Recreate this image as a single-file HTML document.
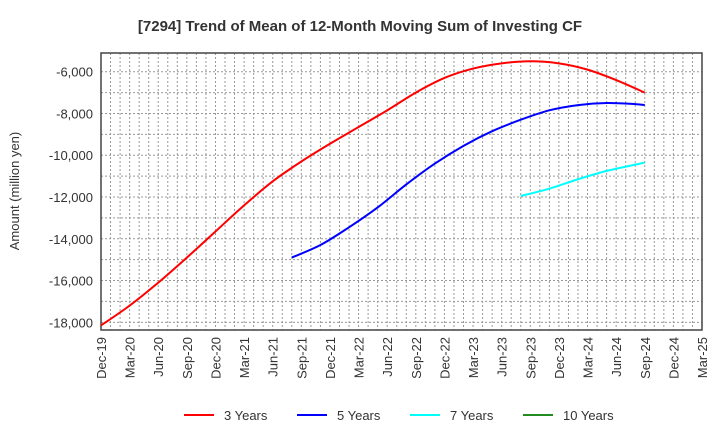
<!DOCTYPE html>
<html><head><meta charset="utf-8"><style>
body{margin:0;background:#fff;}
svg{display:block;font-family:"Liberation Sans",sans-serif;}
</style></head><body>
<svg id="chart" width="720" height="440"></svg>
<script>
const quarters=["Dec-19","Mar-20","Jun-20","Sep-20","Dec-20","Mar-21","Jun-21","Sep-21","Dec-21","Mar-22","Jun-22","Sep-22","Dec-22","Mar-23","Jun-23","Sep-23","Dec-23","Mar-24","Jun-24","Sep-24","Dec-24","Mar-25"];
const yTicks=[-6000,-8000,-10000,-12000,-14000,-16000,-18000];
const s3Dates=["Dec-19","Mar-20","Jun-20","Sep-20","Dec-20","Mar-21","Jun-21","Sep-21","Dec-21","Mar-22","Jun-22","Sep-22","Dec-22","Mar-23","Jun-23","Sep-23","Dec-23","Mar-24","Jun-24","Sep-24"];
const s3=[-18150,-17200,-16100,-14900,-13650,-12400,-11250,-10300,-9450,-8650,-7850,-7000,-6300,-5850,-5600,-5500,-5600,-5900,-6400,-7000];
const s5Dates=["Aug-21","Nov-21","Feb-22","May-22","Aug-22","Nov-22","Feb-23","May-23","Aug-23","Nov-23","Feb-24","May-24","Aug-24","Sep-24"];
const s5=[-14900,-14300,-13450,-12500,-11400,-10400,-9550,-8850,-8300,-7850,-7600,-7500,-7550,-7600];
const s7Dates=["Aug-23","Nov-23","Feb-24","May-24","Aug-24","Sep-24"];
const s7=[-11950,-11600,-11150,-10750,-10450,-10350];
const L=101,R=702,T=53,B=330;
const NS="http://www.w3.org/2000/svg";
const svg=document.getElementById('chart');
const MON=["Jan","Feb","Mar","Apr","May","Jun","Jul","Aug","Sep","Oct","Nov","Dec"];
function mIdx(s){const [m,y]=s.split('-');return (2000+ +y-2019)*12+MON.indexOf(m)-11;}
function xm(m){return L+m*(R-L)/63;}
function xq(i){return L+i*(R-L)/21;}
function yv(v){return 71.7+(-6000-v)/2000*41.77;}
function mk(t,a,p){const e=document.createElementNS(NS,t);for(const k in a)e.setAttribute(k,a[k]);(p||svg).appendChild(e);return e;}
const title=mk('text',{x:360,y:31,'text-anchor':'middle','font-size':15,'font-weight':'bold',fill:'#333'});


title.textContent='[7294]  Trend of Mean of 12-Month Moving Sum of Investing CF';
const grid=mk('g',{});


for(let m=1;m<63;m++){const x=xm(m);mk('line',{x1:x,x2:x,y1:T,y2:B,stroke:'#999','stroke-dasharray':'2,2','stroke-width':1},grid);}
for(let v=-5000;v>=-18000;v-=1000){const y=yv(v);if(y<T)continue;mk('line',{x1:L,x2:R,y1:y,y2:y,stroke:'#999','stroke-dasharray':'2,2','stroke-width':1},grid);}
const ya=mk('g',{});


yTicks.forEach(v=>{const t=mk('text',{x:93,y:yv(v)+5,'text-anchor':'end','font-size':13,fill:'#333'},ya);t.textContent=v.toLocaleString('en-US');});
const yt=mk('text',{x:19,y:191,'text-anchor':'middle','font-size':13,fill:'#333',transform:'rotate(-90 19 191)'});


yt.textContent='Amount (million yen)';
const xa=mk('g',{});


quarters.forEach((q,i)=>{const x=xq(i)+5;const t=mk('text',{x:x,y:337,'text-anchor':'end','font-size':13,fill:'#333',transform:`rotate(-90 ${x} 337)`},xa);t.textContent=q;});
mk('rect',{x:L,y:T,width:R-L,height:B-T,fill:'none',stroke:'#444','stroke-width':1.5});
function path(arr,dates){let pts=arr.map((v,i)=>[xm(mIdx(dates[i])),yv(v)]);let d=`M${pts[0][0]},${pts[0][1]}`;
for(let i=0;i<pts.length-1;i++){const p0=pts[i-1]||pts[i],p1=pts[i],p2=pts[i+1],p3=pts[i+2]||p2;
d+=` C${p1[0]+(p2[0]-p0[0])/6},${p1[1]+(p2[1]-p0[1])/6} ${p2[0]-(p3[0]-p1[0])/6},${p2[1]-(p3[1]-p1[1])/6} ${p2[0]},${p2[1]}`;}return d;}
const l3=mk('path',{d:path(s3,s3Dates),fill:'none',stroke:'#ff0000','stroke-width':2});


const l5=mk('path',{d:path(s5,s5Dates),fill:'none',stroke:'#0000ff','stroke-width':2});


const l7=mk('path',{d:path(s7,s7Dates),fill:'none',stroke:'#00ffff','stroke-width':2});


const leg=[["3 Years","#ff0000",184],["5 Years","#0000ff",297],["7 Years","#00ffff",410],["10 Years","#228b22",523]];
leg.forEach(([n,c,x])=>{const g=mk('g',{});


mk('line',{x1:x,x2:x+30,y1:415,y2:415,stroke:c,'stroke-width':2},g);
const t=mk('text',{x:x+40,y:420,'font-size':13,fill:'#333'},g);t.textContent=n;});
</script>
</body></html>
